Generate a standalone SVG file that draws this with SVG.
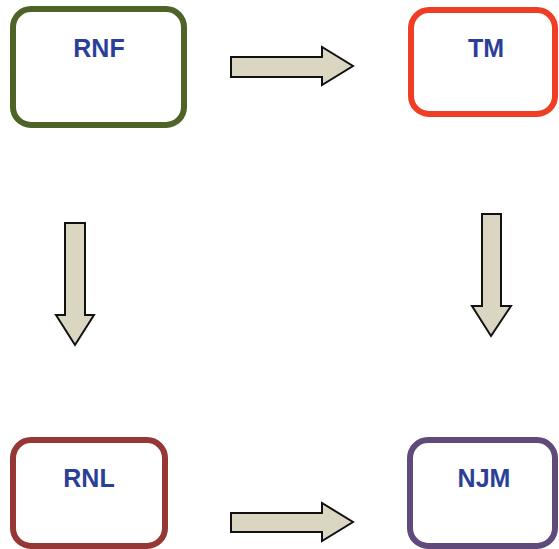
<svg xmlns="http://www.w3.org/2000/svg" width="559" height="549" viewBox="0 0 559 549">
<style>
.box{fill:#fff;stroke-width:6}
.lbl{font-family:"Liberation Sans",Arial,sans-serif;font-weight:bold;font-size:25px;fill:#2B3F98;text-anchor:middle}
.arr{fill:#DBD6C2;stroke:#111;stroke-width:2;stroke-linejoin:miter}
</style>
<rect width="559" height="549" fill="#fff"/>
<g id="RNF"><rect class="box" x="13" y="9" width="171" height="116" rx="18" stroke="#4F6228"/><text class="lbl" x="99" y="57">RNF</text></g>
<g id="TM"><rect class="box" x="411" y="10" width="144" height="104" rx="18" stroke="#EF3E24"/><text class="lbl" x="486" y="57">TM</text></g>
<g id="RNL"><rect class="box" x="13" y="440" width="152" height="106" rx="18" stroke="#953735"/><text class="lbl" x="89" y="487">RNL</text></g>
<g id="NJM"><rect class="box" x="410" y="440" width="145" height="106" rx="18" stroke="#604A7B"/><text class="lbl" x="484" y="487">NJM</text></g>
<g id="connectors">
<polygon class="arr" points="231,57 322,57 322,47 353,66 322,85 322,77 231,77"/>
<polygon class="arr" points="231,513 322,513 322,503 353,522 322,541 322,532 231,532"/>
<polygon class="arr" points="65,223 85,223 85,315 94,315 75,345 56,315 65,315"/>
<polygon class="arr" points="482,214 501,214 501,306 511,306 491,336 472,306 482,306"/>
</g>
</svg>
